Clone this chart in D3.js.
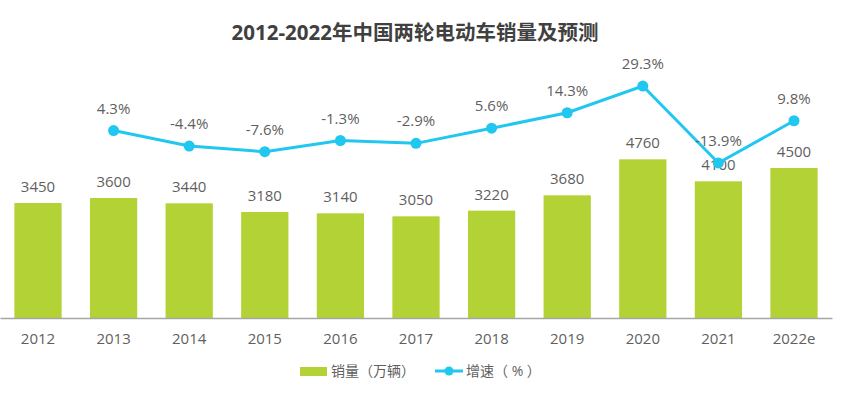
<!DOCTYPE html>
<html>
<head>
<meta charset="utf-8">
<script src="https://cdn.jsdelivr.net/npm/d3@7"></script>
<style>
  body { margin: 0; background: #fff; }
  text { font-family: "Open Sans", "Noto Sans CJK SC", sans-serif; }
</style>
</head>
<body>
<svg id="chart" width="843" height="393"></svg>
<script>
const years = ['2012', '2013', '2014', '2015', '2016', '2017', '2018', '2019', '2020', '2021', '2022e']
const sales = [3450, 3600, 3440, 3180, 3140, 3050, 3220, 3680, 4760, 4100, 4500]
const growth = [null, 4.3, -4.4, -7.6, -1.3, -2.9, 5.6, 14.3, 29.3, -13.9, 9.8]

const BAR_COLOR = '#b2d235'
const LINE_COLOR = '#20c7ef'
const TEXT_COLOR = '#5f5f5f'

const svg = d3.select('#chart')

// 横軸
const x = d3.scaleBand().domain(years).range([0, 832]).paddingInner(0.375).paddingOuter(0.19)

// 縦軸（棒）
const yBar = d3.scaleLinear().domain([0, 6000]).range([318, 118])
// 縦軸（折れ線）
const yLine = d3.scaleLinear().domain([-20, 35]).range([173.8, 75.9])

// タイトル
svg.append('text')
  .attr('x', 415).attr('y', 40)
  .attr('text-anchor', 'middle')
  .attr('font-size', 20.5).attr('font-weight', 'bold')
  .attr('fill', '#404040')
  .text('2012-2022年中国两轮电动车销量及预测')

// 棒
svg.append('g').selectAll('rect')
  .data(sales)
  .enter().append('rect')
  .attr('x', (d, i) => x(years[i]))
  .attr('width', x.bandwidth())
  .attr('y', d => yBar(d))
  .attr('height', d => yBar(0) - yBar(d))
  .attr('fill', BAR_COLOR)

// 棒ラベル
svg.append('g').selectAll('text')
  .data(sales)
  .enter().append('text')
  .attr('x', (d, i) => x(years[i]) + x.bandwidth() / 2)
  .attr('y', d => yBar(d) - 11)
  .attr('text-anchor', 'middle')
  .attr('font-size', 15)
  .attr('fill', TEXT_COLOR)
  .text(d => d)

// 軸線
const xAxis = svg.append('g')
  .attr('transform', 'translate(0,318)')
  .call(d3.axisBottom(x).tickSize(0).tickPadding(15))
xAxis.select('.domain').attr('stroke', '#a6a6a6').attr('stroke-width', 1.5)
xAxis.selectAll('text')
  .attr('font-size', 15)
  .attr('fill', TEXT_COLOR)
  .attr('font-family', '"Open Sans", sans-serif')

// 折れ線
const pts = growth.map((g, i) => ({ year: years[i], g })).filter(d => d.g !== null)
const line = d3.line()
  .x(d => x(d.year) + x.bandwidth() / 2)
  .y(d => yLine(d.g))

svg.append('path')
  .datum(pts)
  .attr('d', line)
  .attr('fill', 'none')
  .attr('stroke', LINE_COLOR)
  .attr('stroke-width', 3)

svg.append('g').selectAll('circle')
  .data(pts)
  .enter().append('circle')
  .attr('cx', d => x(d.year) + x.bandwidth() / 2)
  .attr('cy', d => yLine(d.g))
  .attr('r', 5.5)
  .attr('fill', LINE_COLOR)

svg.append('g').selectAll('text')
  .data(pts)
  .enter().append('text')
  .attr('x', d => x(d.year) + x.bandwidth() / 2)
  .attr('y', d => yLine(d.g) - 17)
  .attr('text-anchor', 'middle')
  .attr('font-size', 15)
  .attr('fill', TEXT_COLOR)
  .text(d => d.g.toFixed(1) + '%')

// 凡例
const legend = svg.append('g').attr('transform', 'translate(300,371)')
legend.append('rect')
  .attr('x', 0).attr('y', -4).attr('width', 27).attr('height', 9)
  .attr('fill', BAR_COLOR)
legend.append('text')
  .attr('x', 31).attr('y', 5)
  .attr('font-size', 14).attr('fill', TEXT_COLOR)
  .text('销量（万辆）')
legend.append('line')
  .attr('x1', 135).attr('x2', 163).attr('y1', 0).attr('y2', 0)
  .attr('stroke', LINE_COLOR).attr('stroke-width', 3)
legend.append('circle')
  .attr('cx', 149).attr('cy', 0).attr('r', 4.5).attr('fill', LINE_COLOR)
legend.append('text')
  .attr('x', 166).attr('y', 5)
  .attr('font-size', 14).attr('fill', TEXT_COLOR)
  .text('增速（ % ）')
</script>
</body>
</html>
